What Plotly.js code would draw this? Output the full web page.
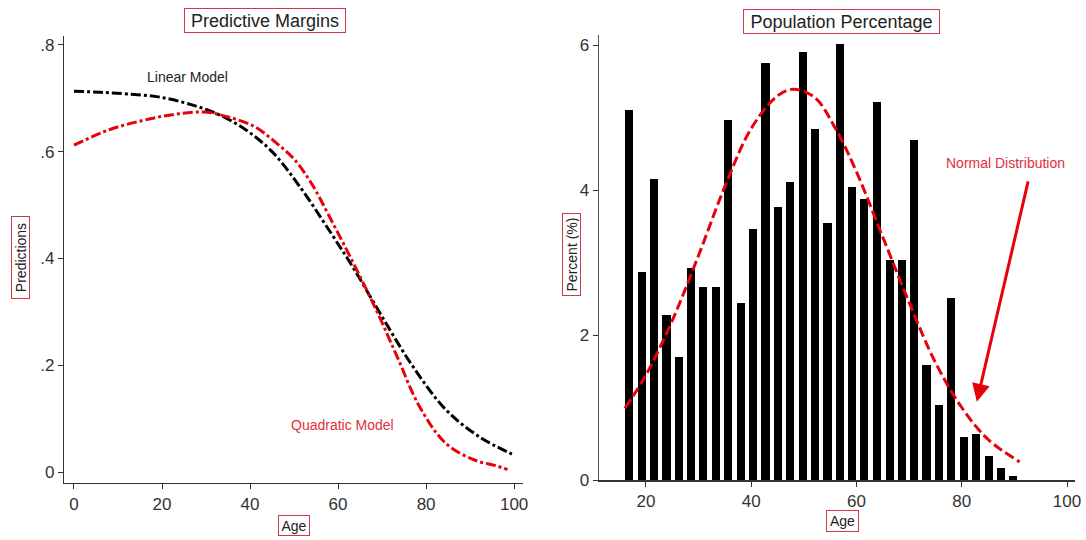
<!DOCTYPE html>
<html>
<head>
<meta charset="utf-8">
<script src="https://cdn.plot.ly/plotly-3.0.1.min.js"></script>
<style>
html,body{margin:0;padding:0;background:#fff;}
#chart{width:1086px;height:540px;}
</style>
</head>
<body>
<div id="chart"></div>
<script>
// ---- Left panel: predictive margins ----
var linAge  = [0, 6, 12, 19.5, 27, 33, 39, 45, 51, 58.2, 63.5, 69.5, 77, 84.5, 92, 99.5];
var linPred = [0.713, 0.711, 0.708, 0.702, 0.687, 0.669, 0.641, 0.600, 0.538, 0.450, 0.382, 0.298, 0.198, 0.117, 0.067, 0.034];

var quadAge  = [0, 8, 16, 23, 29.5, 35, 41, 46, 50, 54, 58, 63.5, 69, 73.5, 78.5, 84.5, 91, 96, 98.5];
var quadPred = [0.612, 0.641, 0.659, 0.670, 0.674, 0.665, 0.647, 0.616, 0.586, 0.540, 0.479, 0.391, 0.298, 0.215, 0.123, 0.054, 0.023, 0.012, 0.005];

// ---- Right panel: population percentage ----
var binAge = [16.8, 19.2, 21.5, 23.9, 26.2, 28.6, 30.9, 33.3, 35.6, 38.0, 40.4, 42.7, 45.1, 47.4, 49.8, 52.1,
              54.5, 56.8, 59.2, 61.5, 63.9, 66.3, 68.6, 71.0, 73.3, 75.7, 78.0, 80.4, 82.7, 85.1, 87.4, 89.8];
var binPct = [5.10, 2.87, 4.15, 2.27, 1.69, 2.92, 2.66, 2.66, 4.96, 2.44, 3.46, 5.75, 3.77, 4.11, 5.90, 4.84,
              3.55, 6.02, 4.04, 3.88, 5.22, 3.03, 3.03, 4.69, 1.59, 1.03, 2.51, 0.59, 0.64, 0.33, 0.17, 0.06];

var normAge = [16, 20, 25, 30, 35, 40, 45, 48, 52, 56, 60, 65, 70, 75, 80, 85, 91];
var normPct = [0.99, 1.45, 2.2, 3.1, 4.05, 4.85, 5.3, 5.39, 5.28, 4.85, 4.25, 3.35, 2.45, 1.62, 1.0, 0.56, 0.25];

// ---- Tick labels ----
var leftYTicks = [0, 0.2, 0.4, 0.6, 0.8];
var leftYText  = ['0', '.2', '.4', '.6', '.8'];
var leftXTicks = [0, 20, 40, 60, 80, 100];
var rightYTicks = [0, 2, 4, 6];
var rightXTicks = [20, 40, 60, 80, 100];

var FONT = 'Arial, "Liberation Sans", sans-serif';
var RED = 'rgb(232,0,10)';
var TXTRED = '#e0303e';
var BOXRED = '#cc3a48';

var traces = [
  {x: linAge, y: linPred, type: 'scatter', mode: 'lines', xaxis: 'x', yaxis: 'y',
   line: {color: '#000', width: 3, dash: '10px,3px,3px,3px', shape: 'spline', smoothing: 1}, hoverinfo: 'skip'},
  {x: quadAge, y: quadPred, type: 'scatter', mode: 'lines', xaxis: 'x', yaxis: 'y',
   line: {color: RED, width: 3, dash: '10px,3px,3px,3px', shape: 'spline', smoothing: 1}, hoverinfo: 'skip'},
  {x: binAge, y: binPct, type: 'bar', xaxis: 'x2', yaxis: 'y2', width: 1.55,
   marker: {color: '#000', line: {width: 0}}, hoverinfo: 'skip'},
  {x: normAge, y: normPct, type: 'scatter', mode: 'lines', xaxis: 'x2', yaxis: 'y2',
   line: {color: RED, width: 3, dash: '10px,4px', shape: 'spline', smoothing: 1}, hoverinfo: 'skip'}
];

var axisCommon = {
  showgrid: false, zeroline: false, showline: true, linecolor: '#333', linewidth: 1.5,
  ticks: 'outside', ticklen: 5, tickcolor: '#333', tickwidth: 1,
  tickfont: {family: FONT, size: 17, color: '#333'}, tickmode: 'array', fixedrange: true
};
function ax(o){ var r = {}; for (var k in axisCommon) r[k] = axisCommon[k]; for (var k2 in o) r[k2] = o[k2]; return r; }

function boxNote(text, x, y, w, h, size, angle){
  return {text: text, xref: 'paper', yref: 'paper', x: x, y: y, xanchor: 'center', yanchor: 'middle',
          showarrow: false, width: w, height: h, textangle: angle || 0,
          font: {family: FONT, size: size, color: '#222'},
          bordercolor: BOXRED, borderwidth: 1, borderpad: 1, bgcolor: '#fff'};
}

var layout = {
  width: 1086, height: 540,
  margin: {l: 0, r: 0, t: 0, b: 0},
  paper_bgcolor: '#fff', plot_bgcolor: '#fff',
  showlegend: false, bargap: 0,
  xaxis: ax({domain: [64.4/1086, 523.4/1086], range: [-2.18, 102.11], tickvals: leftXTicks, anchor: 'y'}),
  yaxis: ax({domain: [1 - 482.6/540, 1 - 36.2/540], range: [-0.0193, 0.816], tickvals: leftYTicks, ticktext: leftYText, anchor: 'x'}),
  xaxis2: ax({domain: [599/1086, 1075/1086], range: [11.07, 101.52], tickvals: rightXTicks, anchor: 'y2'}),
  yaxis2: ax({domain: [1 - 480/540, 1 - 35/540], range: [0, 6.138], tickvals: rightYTicks, anchor: 'x2', linecolor: '#555'}),
  annotations: [
    boxNote('Predictive Margins', 264.5/1086, 1 - 21/540, 158, 21, 18),
    boxNote('Population Percentage', 841.7/1086, 1 - 21.2/540, 193, 21, 18),
    boxNote('Predictions', 20.5/1086, 1 - 257.5/540, 79, 15, 14, -90),
    boxNote('Percent (%)', 571/1086, 1 - 255/540, 79, 15, 14, -90),
    boxNote('Age', 293.8/1086, 1 - 525/540, 28, 17, 14),
    boxNote('Age', 842.3/1086, 1 - 521/540, 29, 18, 14),
    {text: 'Linear Model', xref: 'x', yref: 'y', x: 25.9, y: 0.740, showarrow: false,
     font: {family: FONT, size: 14, color: '#222'}},
    {text: 'Quadratic Model', xref: 'x', yref: 'y', x: 61.1, y: 0.0885, showarrow: false,
     font: {family: FONT, size: 14, color: TXTRED}},
    {text: 'Normal Distribution', xref: 'x2', yref: 'y2', x: 88.3, y: 4.37, showarrow: false,
     font: {family: FONT, size: 14, color: TXTRED}},
    {text: '', xref: 'x2', yref: 'y2', x: 82.87, y: 1.08, axref: 'x2', ayref: 'y2', ax: 92.68, ay: 4.14,
     showarrow: true, arrowhead: 2, arrowsize: 1.2, arrowwidth: 3, arrowcolor: RED, standoff: 0}
  ]
};

Plotly.newPlot('chart', traces, layout, {displayModeBar: false, staticPlot: true});
</script>
</body>
</html>
